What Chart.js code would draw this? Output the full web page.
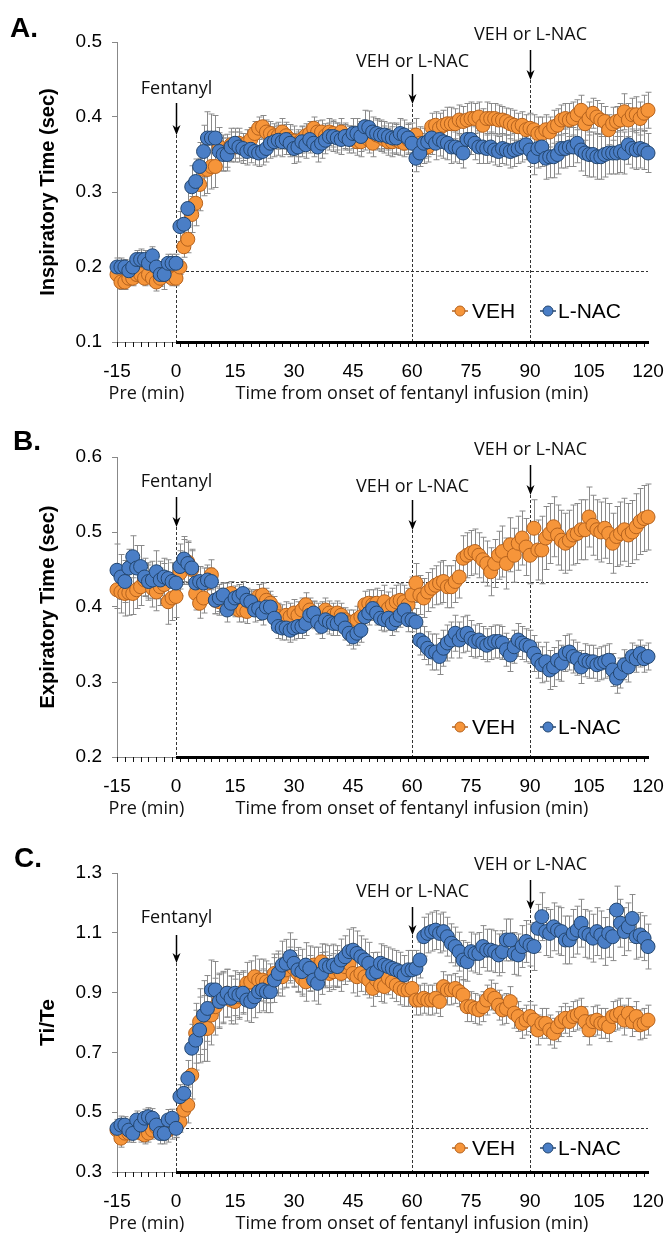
<!DOCTYPE html>
<html>
<head>
<meta charset="utf-8">
<title>Fentanyl infusion - breathing timing</title>
<script src="https://cdn.jsdelivr.net/npm/chart.js@4.4.1/dist/chart.umd.min.js"></script>
<style>
  html, body { margin: 0; padding: 0; background: #fff; }
  body { width: 666px; height: 1234px; position: relative; overflow: hidden; }
  .panel { position: absolute; left: 0; }
  canvas { display: block; }
</style>
</head>
<body>
<div class="panel" style="top:0"><canvas id="chartA" width="666" height="408"></canvas></div>
<div class="panel" style="top:408px"><canvas id="chartB" width="666" height="410"></canvas></div>
<div class="panel" style="top:818px"><canvas id="chartC" width="666" height="416"></canvas></div>
<script>
// time axis: one sample per minute, -15 .. 120
const minutes = [];
for (let m = -15; m <= 120; m++) minutes.push(m);
const minorTicks = [];
for (let m = -15; m <= 120; m += 2) minorTicks.push(m);

const seriesNames = ['VEH', 'L-NAC'];

// A. Inspiratory time (sec)
const tiVeh = [
  0.190,0.180,0.180,0.185,0.185,0.190,0.190,0.185,0.190,0.185,0.180,0.185,0.190,0.190,0.185,0.185,
  0.200,0.227,0.237,0.270,0.285,0.310,0.330,0.330,0.334,0.334,
  0.360,0.352,0.355,0.363,0.360,0.365,0.360,0.365,0.370,0.378,
  0.385,0.387,0.380,0.378,0.375,0.375,0.380,0.375,0.370,0.368,
  0.365,0.370,0.375,0.378,0.385,0.380,0.380,0.375,0.380,0.378,
  0.374,0.380,0.374,0.372,0.370,0.367,0.367,0.376,0.370,0.365,
  0.376,0.374,0.370,0.367,0.367,0.370,0.367,0.365,0.370,0.372,
  0.376,0.365,0.358,0.360,0.387,0.389,0.385,0.389,0.391,0.391,
  0.391,0.396,0.394,0.396,0.398,0.398,0.400,0.389,0.398,0.398,
  0.398,0.396,0.396,0.394,0.391,0.389,0.387,0.389,0.383,0.385,
  0.383,0.378,0.378,0.383,0.380,0.387,0.389,0.396,0.398,0.396,
  0.398,0.403,0.409,0.391,0.398,0.405,0.400,0.396,0.394,0.383,
  0.391,0.394,0.396,0.407,0.396,0.403,0.403,0.398,0.405,0.409
];
const tiNac = [
  0.200,0.200,0.200,0.195,0.200,0.210,0.210,0.210,0.205,0.215,0.200,0.190,0.190,0.205,0.205,0.205,
  0.254,0.257,0.278,0.307,0.314,0.334,0.354,0.372,0.372,0.372,
  0.354,0.350,0.350,0.360,0.365,0.360,0.358,0.354,0.357,0.354,
  0.352,0.354,0.358,0.365,0.367,0.369,0.367,0.370,0.365,0.358,
  0.360,0.367,0.363,0.370,0.365,0.360,0.365,0.369,0.374,0.374,
  0.372,0.370,0.374,0.370,0.378,0.378,0.374,0.387,0.386,0.380,
  0.378,0.376,0.376,0.374,0.372,0.372,0.378,0.376,0.372,0.365,
  0.345,0.352,0.365,0.367,0.372,0.365,0.370,0.367,0.365,0.360,
  0.360,0.358,0.352,0.370,0.370,0.365,0.360,0.360,0.358,0.360,
  0.356,0.354,0.358,0.356,0.354,0.356,0.358,0.360,0.363,0.356,
  0.347,0.358,0.360,0.345,0.347,0.347,0.350,0.358,0.358,0.360,
  0.360,0.365,0.356,0.352,0.350,0.350,0.347,0.347,0.350,0.352,
  0.352,0.352,0.354,0.352,0.363,0.358,0.356,0.358,0.356,0.352
];
const tiVehErr = [
  .012,.010,.010,.009,.010,.011,.010,.010,.011,.010,.012,.010,.011,.010,.010,.010,
  .010,.014,.018,.024,.030,.035,.035,.032,.030,.028,
  .026,.024,.022,.022,.020,.020,.018,.018,.016,.016,
  .015,.015,.016,.016,.016,.018,.018,.018,.020,.020,
  .018,.018,.016,.016,.015,.015,.016,.016,.018,.018,
  .018,.018,.016,.016,.018,.018,.020,.020,.018,.018,
  .020,.020,.018,.018,.020,.020,.018,.018,.020,.020,
  .022,.022,.020,.020,.018,.018,.020,.020,.022,.022,
  .020,.020,.020,.022,.022,.020,.020,.022,.022,.020,
  .020,.020,.018,.018,.020,.020,.018,.018,.020,.020,
  .020,.022,.022,.020,.020,.022,.022,.020,.020,.022,
  .022,.020,.020,.022,.022,.020,.022,.022,.020,.020,
  .022,.020,.022,.024,.022,.022,.024,.022,.024,.024
];
const tiNacErr = [
  .012,.012,.010,.010,.012,.012,.014,.012,.012,.012,.014,.016,.020,.012,.012,.012,
  .020,.022,.025,.028,.030,.032,.035,.035,.032,.030,
  .025,.022,.022,.020,.020,.020,.020,.018,.018,.018,
  .018,.018,.018,.020,.020,.020,.020,.020,.018,.020,
  .020,.020,.018,.018,.018,.020,.020,.018,.018,.020,
  .020,.020,.018,.018,.020,.020,.020,.022,.022,.020,
  .020,.020,.018,.018,.020,.020,.020,.020,.020,.020,
  .018,.018,.020,.020,.022,.022,.022,.022,.022,.022,
  .020,.020,.020,.020,.020,.022,.022,.022,.020,.020,
  .020,.020,.020,.020,.022,.022,.020,.020,.020,.022,
  .024,.026,.026,.028,.028,.028,.026,.026,.026,.026,
  .026,.026,.028,.030,.030,.030,.030,.030,.030,.028,
  .028,.028,.028,.028,.026,.026,.026,.026,.026,.026
];

// B. Expiratory time (sec)
const teVeh = [
  0.423,0.420,0.418,0.419,0.418,0.423,0.427,0.436,0.434,0.425,0.420,0.427,0.430,0.407,0.412,0.414,
  0.445,0.460,0.460,0.450,0.418,0.405,0.412,0.432,0.443,0.409,
  0.407,0.414,0.416,0.418,0.403,0.396,0.396,0.394,0.405,0.407,
  0.414,0.416,0.409,0.405,0.398,0.387,0.385,0.389,0.387,0.392,
  0.389,0.396,0.403,0.396,0.389,0.387,0.389,0.396,0.392,0.389,
  0.392,0.389,0.383,0.380,0.380,0.383,0.387,0.403,0.405,0.403,
  0.405,0.400,0.407,0.398,0.403,0.407,0.409,0.407,0.403,0.416,
  0.432,0.416,0.412,0.420,0.425,0.429,0.432,0.434,0.427,0.427,
  0.434,0.440,0.465,0.469,0.472,0.474,0.469,0.463,0.458,0.447,
  0.458,0.469,0.474,0.458,0.483,0.469,0.485,0.492,0.480,0.469,
  0.505,0.476,0.476,0.492,0.498,0.507,0.496,0.489,0.485,0.489,
  0.496,0.498,0.503,0.503,0.520,0.509,0.503,0.500,0.505,0.498,
  0.485,0.494,0.498,0.503,0.496,0.500,0.507,0.514,0.518,0.520
];
const teNac = [
  0.449,0.440,0.434,0.452,0.467,0.452,0.454,0.440,0.434,0.436,0.447,0.436,0.440,0.438,0.434,0.432,
  0.454,0.464,0.458,0.452,0.432,0.434,0.432,0.436,0.434,0.409,
  0.412,0.416,0.396,0.405,0.412,0.414,0.418,0.409,0.407,0.396,
  0.398,0.392,0.400,0.400,0.385,0.374,0.372,0.372,0.369,0.372,
  0.374,0.374,0.378,0.389,0.392,0.380,0.374,0.383,0.380,0.378,
  0.378,0.383,0.372,0.365,0.360,0.365,0.369,0.387,0.392,0.398,
  0.392,0.385,0.383,0.385,0.378,0.383,0.389,0.396,0.383,0.383,
  0.380,0.356,0.352,0.345,0.340,0.340,0.334,0.345,0.352,0.356,
  0.365,0.356,0.363,0.365,0.358,0.354,0.356,0.352,0.349,0.352,
  0.354,0.354,0.352,0.343,0.336,0.347,0.356,0.352,0.349,0.347,
  0.338,0.329,0.323,0.327,0.316,0.320,0.329,0.325,0.338,0.340,
  0.334,0.331,0.320,0.329,0.327,0.327,0.323,0.325,0.327,0.329,
  0.316,0.305,0.312,0.323,0.320,0.334,0.331,0.338,0.331,0.334
];
const teVehErr = [
  .025,.028,.030,.030,.028,.025,.025,.022,.022,.025,.025,.025,.028,.030,.030,.028,
  .030,.030,.028,.025,.022,.020,.020,.020,.020,.018,
  .018,.018,.016,.016,.016,.016,.016,.016,.016,.016,
  .016,.016,.016,.016,.016,.018,.018,.018,.018,.018,
  .018,.016,.016,.016,.018,.018,.018,.016,.016,.016,
  .016,.016,.016,.016,.016,.018,.018,.018,.018,.020,
  .020,.022,.022,.022,.022,.022,.022,.022,.022,.024,
  .026,.026,.026,.026,.026,.026,.028,.028,.028,.028,
  .028,.028,.030,.030,.030,.030,.030,.030,.030,.032,
  .032,.032,.034,.034,.036,.036,.036,.036,.038,.038,
  .038,.040,.045,.042,.040,.040,.040,.040,.040,.040,
  .040,.040,.040,.040,.040,.040,.040,.040,.040,.040,
  .040,.040,.042,.042,.042,.042,.044,.044,.044,.044
];
const teNacErr = [
  .035,.030,.028,.025,.028,.030,.028,.025,.025,.025,.028,.025,.025,.025,.025,.025,
  .030,.030,.028,.025,.022,.020,.020,.020,.018,.018,
  .018,.016,.016,.016,.016,.016,.016,.016,.016,.016,
  .016,.016,.016,.016,.016,.016,.016,.016,.016,.016,
  .016,.016,.016,.016,.016,.016,.016,.016,.016,.016,
  .016,.016,.016,.016,.016,.016,.016,.016,.016,.016,
  .016,.016,.016,.016,.016,.016,.016,.016,.016,.016,
  .018,.020,.022,.022,.024,.024,.024,.024,.024,.024,
  .024,.024,.024,.024,.024,.022,.022,.022,.022,.022,
  .022,.022,.022,.022,.022,.022,.022,.022,.022,.022,
  .024,.024,.024,.026,.026,.026,.026,.024,.024,.024,
  .022,.022,.022,.022,.022,.022,.022,.022,.022,.022,
  .022,.020,.020,.020,.020,.018,.018,.018,.018,.018
];

// C. Ti/Te
const ratioVeh = [
  0.440,0.413,0.430,0.430,0.440,0.440,0.430,0.424,0.430,0.440,0.450,0.440,0.440,0.440,0.450,0.450,
  0.468,0.507,0.524,0.624,0.764,0.803,0.780,0.780,0.825,0.853,
  0.875,0.886,0.898,0.875,0.870,0.886,0.903,0.931,0.936,0.953,
  0.942,0.942,0.936,0.931,0.964,0.964,0.953,0.976,0.992,0.981,
  0.964,0.948,0.936,0.964,0.992,0.987,1.003,0.976,0.964,0.970,
  0.981,0.964,0.987,0.998,0.964,0.953,0.964,0.953,0.942,0.914,
  0.942,0.925,0.920,0.948,0.936,0.925,0.914,0.909,0.909,0.914,
  0.875,0.875,0.881,0.875,0.875,0.881,0.870,0.920,0.909,0.909,
  0.914,0.903,0.892,0.853,0.853,0.847,0.842,0.853,0.875,0.892,
  0.881,0.858,0.842,0.847,0.870,0.831,0.820,0.797,0.808,0.820,
  0.808,0.775,0.797,0.797,0.775,0.764,0.786,0.803,0.814,0.803,
  0.820,0.825,0.831,0.803,0.775,0.803,0.808,0.797,0.797,0.786,
  0.820,0.825,0.831,0.808,0.831,0.803,0.820,0.792,0.797,0.808
];
const ratioNac = [
  0.446,0.457,0.457,0.440,0.429,0.474,0.457,0.480,0.485,0.480,0.457,0.429,0.429,0.474,0.480,0.446,
  0.552,0.563,0.613,0.714,0.741,0.775,0.825,0.847,0.909,0.909,
  0.870,0.881,0.898,0.881,0.898,0.892,0.898,0.875,0.870,0.886,
  0.903,0.909,0.903,0.903,0.942,0.964,0.992,0.998,1.020,0.998,
  0.976,0.970,0.992,0.981,0.942,0.931,0.964,0.992,0.987,0.992,
  0.987,1.009,1.020,1.037,1.042,1.031,1.020,1.009,0.998,0.964,
  0.970,0.998,0.992,0.987,0.981,0.976,0.970,0.959,0.976,0.976,
  0.981,1.009,1.087,1.098,1.104,1.109,1.098,1.104,1.087,1.065,
  1.054,1.037,1.009,1.003,1.037,1.031,1.031,1.054,1.042,1.042,
  1.037,1.026,1.037,1.076,1.076,1.031,1.026,1.054,1.071,1.059,
  1.054,1.115,1.154,1.104,1.098,1.120,1.109,1.104,1.076,1.076,
  1.098,1.109,1.132,1.098,1.093,1.082,1.104,1.093,1.071,1.098,
  1.087,1.176,1.132,1.104,1.120,1.148,1.087,1.093,1.082,1.054
];
const ratioVehErr = [
  .030,.030,.030,.030,.028,.028,.030,.030,.030,.030,.030,.032,.035,.040,.040,.035,
  .035,.040,.060,.080,.100,.110,.110,.110,.100,.095,
  .090,.085,.080,.080,.075,.075,.070,.070,.070,.070,
  .070,.070,.070,.065,.065,.065,.065,.060,.060,.060,
  .060,.060,.065,.060,.060,.065,.060,.060,.060,.060,
  .060,.060,.060,.060,.065,.065,.060,.060,.060,.060,
  .055,.055,.055,.055,.055,.055,.055,.055,.055,.055,
  .050,.050,.050,.050,.050,.050,.050,.050,.050,.050,
  .050,.050,.050,.050,.050,.050,.050,.050,.050,.050,
  .050,.050,.050,.050,.050,.050,.050,.050,.050,.050,
  .050,.050,.050,.050,.050,.050,.050,.050,.050,.050,
  .050,.050,.050,.050,.050,.050,.050,.050,.050,.050,
  .050,.050,.050,.050,.050,.050,.050,.050,.050,.050
];
const ratioNacErr = [
  .030,.030,.028,.028,.030,.030,.030,.030,.030,.032,.032,.035,.035,.035,.030,.030,
  .040,.050,.060,.080,.100,.110,.115,.110,.100,.095,
  .090,.085,.080,.075,.075,.075,.070,.070,.070,.070,
  .070,.070,.070,.070,.075,.075,.080,.080,.080,.080,
  .075,.075,.075,.075,.070,.070,.070,.070,.070,.070,
  .070,.070,.070,.075,.075,.075,.070,.070,.070,.070,
  .065,.065,.065,.065,.065,.065,.065,.065,.065,.065,
  .060,.060,.065,.065,.065,.065,.065,.065,.065,.065,
  .065,.065,.065,.065,.065,.065,.070,.070,.070,.070,
  .070,.070,.070,.070,.070,.070,.070,.070,.070,.070,
  .080,.080,.080,.080,.080,.080,.080,.080,.080,.080,
  .080,.080,.080,.080,.080,.080,.080,.080,.080,.080,
  .080,.080,.080,.080,.080,.080,.075,.075,.075,.075
];

// pre-fentanyl baselines (dashed lines)
const baselines = { A: 0.195, B: 0.433, C: 0.447 };

const ORANGE = '#f6953a', ORANGE_EDGE = '#b5621d';
const BLUE = '#4a7ec6', BLUE_EDGE = '#23466f';
const LABEL_FONT = '"Open Sans", sans-serif';
const AXIS_FONT = '"Liberation Sans", Arial, sans-serif';

Chart.defaults.font.family = AXIS_FONT;
Chart.defaults.color = '#000';

// error bars, reference lines, arrows, custom x axis and the legend
const panelDecor = {
  id: 'panelDecor',
  beforeDatasetsDraw(chart, args, opts) {
    const ctx = chart.ctx, xs = chart.scales.x, ys = chart.scales.y, area = chart.chartArea;
    ctx.save();
    ctx.strokeStyle = '#333';
    ctx.lineWidth = 1;
    ctx.setLineDash([3, 2]);
    ctx.beginPath();
    const by = Math.round(ys.getPixelForValue(opts.baseline)) + 0.5;
    ctx.moveTo(xs.getPixelForValue(0), by);
    ctx.lineTo(xs.getPixelForValue(120), by);
    opts.notes.forEach(n => {
      const px = Math.round(xs.getPixelForValue(n.at)) + 0.5;
      ctx.moveTo(px, n.arrowBottom);
      ctx.lineTo(px, area.bottom);
    });
    ctx.stroke();

    ctx.setLineDash([]);
    ctx.strokeStyle = '#8a8a8a';
    ctx.lineWidth = 1;
    ctx.beginPath();
    chart.data.datasets.forEach((ds, i) => {
      const meta = chart.getDatasetMeta(i);
      meta.data.forEach((pt, j) => {
        const v = ds.data[j].y, e = ds.errors[j];
        const px = Math.round(pt.x) + 0.5;
        const top = ys.getPixelForValue(v + e), bot = ys.getPixelForValue(v - e);
        ctx.moveTo(px, top); ctx.lineTo(px, bot);
        ctx.moveTo(px - 3, top); ctx.lineTo(px + 3, top);
        ctx.moveTo(px - 3, bot); ctx.lineTo(px + 3, bot);
      });
    });
    ctx.stroke();
    ctx.restore();
  },
  afterDraw(chart, args, opts) {
    const ctx = chart.ctx, xs = chart.scales.x, area = chart.chartArea;
    const yb = area.bottom;
    ctx.save();

    // x axis: thin before infusion, heavy after
    ctx.strokeStyle = '#888';
    ctx.lineWidth = 1;
    ctx.beginPath();
    ctx.moveTo(xs.getPixelForValue(-15), yb + 0.5);
    ctx.lineTo(xs.getPixelForValue(0), yb + 0.5);
    ctx.stroke();
    ctx.strokeStyle = '#111';
    ctx.beginPath();
    minorTicks.forEach(m => {
      const px = Math.round(xs.getPixelForValue(m)) + 0.5;
      ctx.moveTo(px, yb);
      ctx.lineTo(px, yb + 5);
    });
    ctx.stroke();
    ctx.strokeStyle = '#000';
    ctx.lineWidth = 3;
    ctx.beginPath();
    ctx.moveTo(xs.getPixelForValue(0), yb + 0.5);
    ctx.lineTo(xs.getPixelForValue(120) + 1, yb + 0.5);
    ctx.stroke();

    // x axis titles
    ctx.fillStyle = '#111';
    ctx.font = '18px ' + LABEL_FONT;
    ctx.textAlign = 'center';
    ctx.textBaseline = 'middle';
    ctx.fillText('Pre (min)', xs.getPixelForValue(-7.5), yb + 52);
    ctx.fillText('Time from onset of fentanyl infusion (min)', xs.getPixelForValue(60), yb + 52);

    // drug arrows
    opts.notes.forEach(n => {
      const px = Math.round(xs.getPixelForValue(n.at)) + 0.5;
      ctx.fillText(n.label, px, n.textY);
      ctx.strokeStyle = '#000';
      ctx.lineWidth = 1.5;
      ctx.beginPath();
      ctx.moveTo(px, n.arrowTop);
      ctx.lineTo(px, n.arrowBottom - 4);
      ctx.stroke();
      ctx.fillStyle = '#000';
      ctx.beginPath();
      ctx.moveTo(px - 4, n.arrowBottom - 10);
      ctx.lineTo(px, n.arrowBottom);
      ctx.lineTo(px + 4, n.arrowBottom - 10);
      ctx.lineTo(px, n.arrowBottom - 7);
      ctx.closePath();
      ctx.fill();
      ctx.fillStyle = '#111';
    });

    // panel letter
    ctx.font = 'bold 28px ' + AXIS_FONT;
    ctx.textAlign = 'left';
    ctx.fillStyle = '#000';
    ctx.fillText(opts.letter, opts.letterX, opts.letterY);

    // legend
    ctx.font = '21px ' + AXIS_FONT;
    const items = [
      { label: seriesNames[0], fill: ORANGE, edge: ORANGE_EDGE, cx: 460, tx: 472 },
      { label: seriesNames[1], fill: BLUE, edge: BLUE_EDGE, cx: 548, tx: 558 }
    ];
    items.forEach(it => {
      const cy = opts.legendY;
      ctx.strokeStyle = it.edge;
      ctx.lineWidth = 1.5;
      ctx.beginPath();
      ctx.moveTo(it.cx - 8, cy); ctx.lineTo(it.cx + 8, cy);
      ctx.stroke();
      ctx.beginPath();
      ctx.arc(it.cx, cy, 5, 0, Math.PI * 2);
      ctx.fillStyle = it.fill;
      ctx.fill();
      ctx.lineWidth = 1;
      ctx.stroke();
      ctx.fillStyle = '#000';
      ctx.fillText(it.label, it.tx, cy + 1);
    });
    ctx.restore();
  }
};

function makePanel(id, cfg) {
  const toPoints = vals => minutes.map((m, i) => ({ x: m, y: vals[i] }));
  return new Chart(document.getElementById(id), {
    type: 'scatter',
    data: {
      datasets: [{
        label: seriesNames[0],
        data: toPoints(cfg.veh),
        errors: cfg.vehErr,
        backgroundColor: ORANGE,
        borderColor: ORANGE_EDGE,
        borderWidth: 1,
        pointRadius: 7,
        order: 1,
        clip: false
      }, {
        label: seriesNames[1],
        data: toPoints(cfg.nac),
        errors: cfg.nacErr,
        backgroundColor: BLUE,
        borderColor: BLUE_EDGE,
        borderWidth: 1,
        pointRadius: 7,
        order: 0,
        clip: false
      }]
    },
    options: {
      responsive: false,
      animation: false,
      devicePixelRatio: 1,
      events: [],
      layout: { padding: { top: cfg.padTop, right: 18, bottom: 0, left: 0 } },
      scales: {
        x: {
          type: 'linear',
          min: -15,
          max: 120,
          // label offset comes from an invisible tick mark so it does not widen the side padding
          ticks: { stepSize: 15, font: { size: 19 }, color: '#000', padding: 0, maxRotation: 0, autoSkip: false },
          grid: { display: true, drawOnChartArea: false, drawTicks: true, tickLength: 18, color: 'rgba(0,0,0,0)' },
          border: { display: false },
          afterFit: s => { s.height = cfg.xHeight; }
        },
        y: {
          min: cfg.yMin,
          max: cfg.yMax,
          ticks: { stepSize: cfg.yStep, font: { size: 19 }, color: '#000', padding: 10,
                   callback: v => v.toFixed(1) },
          grid: { drawOnChartArea: false, drawTicks: true, tickLength: 5, color: '#888' },
          border: { color: '#888' },
          title: { display: true, text: cfg.yTitle, color: '#000',
                   font: { size: cfg.yTitleSize, weight: 'bold' }, padding: { top: 36, bottom: 0 } },
          afterFit: s => { s.width = 117; }
        }
      },
      plugins: {
        legend: { display: false },
        tooltip: { enabled: false },
        panelDecor: {
          letter: cfg.letter, letterX: cfg.letterX, letterY: cfg.letterY,
          baseline: cfg.baseline, legendY: cfg.legendY, notes: cfg.notes
        }
      }
    },
    plugins: [panelDecor]
  });
}

makePanel('chartA', {
  veh: tiVeh, nac: tiNac, vehErr: tiVehErr, nacErr: tiNacErr,
  yMin: 0.1, yMax: 0.5, yStep: 0.1, yTitle: 'Inspiratory Time (sec)', yTitleSize: 20,
  padTop: 42, xHeight: 66, baseline: baselines.A,
  letter: 'A.', letterX: 10, letterY: 29, legendY: 311,
  notes: [
    { at: 0, label: 'Fentanyl', textY: 89, arrowTop: 103, arrowBottom: 135 },
    { at: 60, label: 'VEH or L-NAC', textY: 62, arrowTop: 74, arrowBottom: 104 },
    { at: 90, label: 'VEH or L-NAC', textY: 35, arrowTop: 50, arrowBottom: 80 }
  ]
});

makePanel('chartB', {
  veh: teVeh, nac: teNac, vehErr: teVehErr, nacErr: teNacErr,
  yMin: 0.2, yMax: 0.6, yStep: 0.1, yTitle: 'Expiratory Time (sec)', yTitleSize: 20,
  padTop: 49, xHeight: 61, baseline: baselines.B,
  letter: 'B.', letterX: 13, letterY: 34, legendY: 319,
  notes: [
    { at: 0, label: 'Fentanyl', textY: 74, arrowTop: 89, arrowBottom: 119 },
    { at: 60, label: 'VEH or L-NAC', textY: 79, arrowTop: 92, arrowBottom: 122 },
    { at: 90, label: 'VEH or L-NAC', textY: 42, arrowTop: 57, arrowBottom: 87 }
  ]
});

makePanel('chartC', {
  veh: ratioVeh, nac: ratioNac, vehErr: ratioVehErr, nacErr: ratioNacErr,
  yMin: 0.3, yMax: 1.3, yStep: 0.2, yTitle: 'Ti/Te', yTitleSize: 21,
  padTop: 55, xHeight: 62, baseline: baselines.C,
  letter: 'C.', letterX: 14, letterY: 41, legendY: 330,
  notes: [
    { at: 0, label: 'Fentanyl', textY: 100, arrowTop: 117, arrowBottom: 145 },
    { at: 60, label: 'VEH or L-NAC', textY: 74, arrowTop: 89, arrowBottom: 117 },
    { at: 90, label: 'VEH or L-NAC', textY: 47, arrowTop: 62, arrowBottom: 92 }
  ]
});
</script>
</body>
</html>
